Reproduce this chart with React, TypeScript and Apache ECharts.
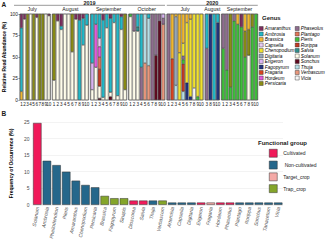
import React, { useEffect, useRef } from "react";
import * as echarts from "echarts";

// ---------- Panel A data ----------
const GENERA = [
  "Amaranthus", "Ambrosia", "Artemisia", "Brassica", "Capsella", "Chenopodium",
  "Digitaria", "Dioscorea", "Erigeron", "Fagopyrum", "Fragaria", "Hordeum", "Persicaria",
  "Phaseolus", "Phellodendron", "Plantago", "Pieris", "Rorippa", "Salvia", "Sinapis",
  "Solanum", "Sonchus", "Tanacetum", "Thuja", "Verbascum", "Vicia",
];

const GENUS_COLORS: Record<string, string> = {
  Amaranthus: "#7D2E5E", Ambrosia: "#22B8C8", Artemisia: "#D2552E", Brassica: "#F0B72F",
  Capsella: "#E8CBF2", Chenopodium: "#F1E22E", Digitaria: "#97A6B6", Dioscorea: "#5F5B78",
  Erigeron: "#D9B3F2", Fagopyrum: "#22337E", Fragaria: "#D8431F", Hordeum: "#E15BDB",
  Persicaria: "#8A8C14", Phaseolus: "#8E6C8E", Phellodendron: "#3B1232", Plantago: "#E07559",
  Pieris: "#3EBE3A", Rorippa: "#C23A25", Salvia: "#2E8E8A", Sinapis: "#92B78F",
  Solanum: "#FFFDEB", Sonchus: "#5F0B20", Tanacetum: "#3AA3B8", Thuja: "#B5DEE6",
  Verbascum: "#E8977C", Vicia: "#F7F7F7",
};

type Bar = Record<string, number>;

const SAMPLES_10 = ["1", "2", "3", "4", "5", "6", "7", "8", "9", "10"];
const SAMPLES_AUG2020 = ["3", "8", "9", "10"];

const jul2019: Bar[] = [
  { Brassica: 10, Ambrosia: 74, Amaranthus: 16 },
  { Solanum: 94, Amaranthus: 6 },
  { Persicaria: 100 },
  { Solanum: 100 },
  { Persicaria: 100 },
  { Solanum: 96, Amaranthus: 4 },
  { Persicaria: 100 },
  { Persicaria: 100 },
  { Solanum: 100 },
  { Solanum: 98, Amaranthus: 2 },
];
const aug2019: Bar[] = [
  { Solanum: 23, Persicaria: 77 },
  { Solanum: 92, Amaranthus: 8 },
  { Solanum: 82, Ambrosia: 4, Amaranthus: 14 },
  { Solanum: 100 },
  { Solanum: 100 },
  { Solanum: 56, Persicaria: 44 },
  { Solanum: 94, Amaranthus: 6 },
  { Ambrosia: 93, Amaranthus: 7 },
  { Solanum: 64, Ambrosia: 31, Amaranthus: 5 },
  { Solanum: 87, Ambrosia: 13 },
];
const sep2019: Bar[] = [
  { Solanum: 12, Erigeron: 31, Ambrosia: 57 },
  { Solanum: 38, Hordeum: 50, Ambrosia: 12 },
  { Solanum: 14, Sonchus: 2, Rorippa: 20, Plantago: 14, Hordeum: 12, Capsella: 10, Ambrosia: 28 },
  { Solanum: 3, Ambrosia: 90, Amaranthus: 7 },
  { Solanum: 84, Ambrosia: 16 },
  { Solanum: 5, Sonchus: 4, Ambrosia: 86, Amaranthus: 5 },
  { Solanum: 90, Ambrosia: 10 },
  { Solanum: 5, Ambrosia: 95 },
  { Solanum: 82, Ambrosia: 15, Amaranthus: 3 },
  { Solanum: 12, Persicaria: 88 },
];
const oct2019: Bar[] = [
  { Solanum: 97, Pieris: 3 },
  { Solanum: 80, Phaseolus: 20 },
  { Solanum: 80, Salvia: 5, Ambrosia: 15 },
  { Phaseolus: 38, Ambrosia: 62 },
  { Verbascum: 43, Thuja: 57 },
  { Verbascum: 40, Thuja: 55, Ambrosia: 5 },
  { Phaseolus: 100 },
  { Sonchus: 52, Phaseolus: 48 },
  { Sonchus: 92, Phaseolus: 8 },
  { Verbascum: 88, Phaseolus: 7, Erigeron: 5 },
];
const jul2020: Bar[] = [
  { Phaseolus: 100 },
  { Fragaria: 48, Brassica: 52 },
  { Thuja: 17, Digitaria: 80, Brassica: 3 },
  { Chenopodium: 55, Brassica: 45 },
  { Thuja: 10, Rorippa: 32, Pieris: 5, Phaseolus: 4, Chenopodium: 15, Brassica: 34 },
  { Fagopyrum: 20, Chenopodium: 70, Brassica: 10 },
  { Fagopyrum: 4, Chenopodium: 90, Brassica: 6 },
  { Vicia: 14, Chenopodium: 86 },
  { Pieris: 4, Chenopodium: 96 },
  { Chenopodium: 100 },
];
const aug2020: Bar[] = [
  { Phaseolus: 60, Ambrosia: 40 },
  { Fagopyrum: 100 },
  { Ambrosia: 100 },
  { Fagopyrum: 90, Ambrosia: 10 },
];
const sep2020: Bar[] = [
  { Pieris: 60, Phaseolus: 40 },
  { Pieris: 35, Phaseolus: 65 },
  { Pieris: 15, Persicaria: 85 },
  { Pieris: 92, Phaseolus: 8 },
  { Pieris: 88, Brassica: 12 },
  { Pieris: 85, Amaranthus: 15 },
  { Pieris: 50, Persicaria: 30, Brassica: 20 },
  { Solanum: 52, Persicaria: 30, Brassica: 18 },
  { Pieris: 85, Persicaria: 15 },
  { Pieris: 100 },
];

const FACETS = [
  { year: "2019", month: "July", samples: SAMPLES_10, bars: jul2019 },
  { year: "2019", month: "August", samples: SAMPLES_10, bars: aug2019 },
  { year: "2019", month: "September", samples: SAMPLES_10, bars: sep2019 },
  { year: "2019", month: "October", samples: SAMPLES_10, bars: oct2019 },
  { year: "2020", month: "July", samples: SAMPLES_10, bars: jul2020 },
  { year: "2020", month: "August", samples: SAMPLES_AUG2020, bars: aug2020 },
  { year: "2020", month: "September", samples: SAMPLES_10, bars: sep2020 },
];
const A_TICKS = [0, 25, 50, 75, 100];

// ---------- Panel B data ----------
const B_GENERA = [
  "Solanum", "Ambrosia", "Phellodendron", "Pieris", "Amaranthus", "Chenopodium", "Persicaria",
  "Brassica", "Fagopyrum", "Sinapis", "Dioscorea", "Salvia", "Thuja", "Verbascum", "Artemisia",
  "Capsella", "Digitaria", "Erigeron", "Fragaria", "Hordeum", "Phaseolus", "Plantago", "Rorippa",
  "Sonchus", "Tanacetum", "Vicia",
];
const B_FREQ = [
  24.7, 13.3, 12.0, 10.0, 7.3, 6.0, 5.3, 2.7, 2.0, 2.0, 1.3, 1.3, 1.3, 1.3, 0.7,
  0.7, 0.7, 0.7, 0.7, 0.7, 0.7, 0.7, 0.7, 0.7, 0.7, 0.7,
];
const B_GROUP = [
  "Cultivated", "Non-cultivated", "Non-cultivated", "Non-cultivated", "Non-cultivated",
  "Non-cultivated", "Non-cultivated", "Trap_crop", "Trap_crop", "Trap_crop", "Cultivated",
  "Cultivated", "Non-cultivated", "Trap_crop", "Non-cultivated", "Non-cultivated",
  "Non-cultivated", "Cultivated", "Target_crop", "Cultivated", "Cultivated", "Non-cultivated",
  "Non-cultivated", "Non-cultivated", "Non-cultivated", "Non-cultivated",
];
const GROUPS = ["Cultivated", "Non-cultivated", "Target_crop", "Trap_crop"];
const GROUP_LABELS = ["Cultivated", " Non-cultivated", "Target_crop", "Trap_crop"];
const GROUP_COLORS = ["#F01A5A", "#25678B", "#F4A9A6", "#84A52A"];
const B_TICKS = [0, 5, 10, 15, 20, 25];

const FONT = "Liberation Sans, Arial, sans-serif";

function buildOption() {
  // layout of facets
  const BAR_W = 3.64, GAP = 1.8, X0 = 14, TOP = 14, H = 86;
  let cursor = X0;
  const boxes = FACETS.map((f) => {
    const w = f.samples.length * BAR_W;
    const b = { left: cursor, width: w };
    cursor += w + GAP;
    return b;
  });

  const grids: any[] = boxes.map((b) => ({
    left: b.left, top: TOP, width: b.width, height: H, show: true,
    borderColor: "#1a1a1a", borderWidth: 0.5, backgroundColor: "transparent",
  }));
  const xAxes: any[] = FACETS.map((f, i) => ({
    type: "category", gridIndex: i, data: f.samples,
    axisLine: { show: false }, axisTick: { show: false },
    axisLabel: { fontSize: 4.6, margin: 2, interval: 0, color: "#1a1a1a", fontFamily: FONT },
  }));
  const yAxes: any[] = FACETS.map((f, i) => ({
    type: "value", gridIndex: i, min: A_TICKS[0], max: A_TICKS[A_TICKS.length - 1], interval: 25,
    splitLine: { show: false },
    axisLine: { show: false },
    axisTick: { show: i === 0, length: 1.5, lineStyle: { color: "#333", width: 0.5 } },
    axisLabel: { show: i === 0, fontSize: 4.8, margin: 2, color: "#1a1a1a", fontFamily: FONT },
    name: i === 0 ? "Relative Read Abundance (%)" : "",
    nameLocation: "middle", nameGap: 9, nameRotate: 90,
    nameTextStyle: { fontSize: 5, fontWeight: "bold", color: "#000", fontFamily: FONT },
  }));

  const series: any[] = [];
  FACETS.forEach((f, i) => {
    const totals = f.bars.map((b) => Object.values(b).reduce((s, v) => s + v, 0));
    [...GENERA].reverse().forEach((g) => {
      if (!f.bars.some((b) => b[g])) return;
      series.push({
        type: "bar", name: g, xAxisIndex: i, yAxisIndex: i, stack: "f" + i,
        barCategoryGap: "10%",
        data: f.bars.map((b, k) => (b[g] ? (b[g] / totals[k]) * 100 : "-")),
        itemStyle: { color: GENUS_COLORS[g], borderColor: "#222", borderWidth: 0.4 },
        emphasis: { disabled: true },
      });
    });
  });

  // Panel B
  const bi = FACETS.length;
  grids.push({ left: 17, top: 122, right: 49, height: 83 });
  xAxes.push({
    type: "category", gridIndex: bi, data: B_GENERA,
    axisLine: { show: false }, axisTick: { show: false },
    axisLabel: {
      rotate: 80, fontSize: 5, fontStyle: "italic", color: "#4d4d4d", margin: 2, interval: 0,
      fontFamily: FONT,
    },
  });
  yAxes.push({
    type: "value", gridIndex: bi, min: B_TICKS[0], max: B_TICKS[B_TICKS.length - 1], interval: 5,
    axisLine: { show: false }, axisTick: { show: false },
    splitLine: { lineStyle: { color: "#e6e6e6", width: 0.5 } },
    axisLabel: { fontSize: 5, color: "#4d4d4d", margin: 3, fontFamily: FONT },
    name: "Frequency of Occurrence (%)", nameLocation: "middle", nameGap: 9, nameRotate: 90,
    nameTextStyle: { fontSize: 5, fontWeight: "bold", color: "#000", fontFamily: FONT },
  });
  GROUPS.forEach((g, gi) => {
    series.push({
      type: "bar", name: g, xAxisIndex: bi, yAxisIndex: bi, stack: "B", barCategoryGap: "12%",
      data: B_FREQ.map((v, k) => (B_GROUP[k] === g ? v : "-")),
      itemStyle: { color: GROUP_COLORS[gi], borderColor: "#333", borderWidth: 0.5 },
      emphasis: { disabled: true },
    });
  });

  // strips & titles
  const graphic: any[] = [];
  const text = (t: string, x: number, y: number, size: number, bold = false, align = "center") => ({
    type: "text", x, y, silent: true,
    style: {
      text: t, fill: "#1a1a1a", align, verticalAlign: "top",
      font: `${bold ? "bold " : ""}${size}px ${FONT}`,
    },
  });
  graphic.push(text("A", 1.5, 0.5, 6.5, true, "left"));
  graphic.push(text("B", 1.5, 110, 6.5, true, "left"));
  ["2019", "2020"].forEach((yr) => {
    const idx = FACETS.map((f, i) => (f.year === yr ? i : -1)).filter((i) => i >= 0);
    const x1 = boxes[idx[0]].left;
    const x2 = boxes[idx[idx.length - 1]].left + boxes[idx[idx.length - 1]].width;
    graphic.push(text(yr, (x1 + x2) / 2, -0.5, 5.5, true));
    graphic.push({
      type: "line", silent: true, shape: { x1, y1: 5.3, x2, y2: 5.3 },
      style: { stroke: "#333", lineWidth: 0.5 },
    });
  });
  FACETS.forEach((f, i) => {
    graphic.push(text(f.month, boxes[i].left + boxes[i].width / 2, 6.8, 5.2));
  });
  graphic.push(text("Genus", 262, 14.5, 6, true, "left"));
  graphic.push(text("Functional group", 258, 140, 6, true, "left"));

  const legendBase = {
    orient: "vertical", icon: "rect", selectedMode: false,
    itemStyle: { borderColor: "#222", borderWidth: 0.4 },
  };

  return {
    animation: false,
    textStyle: { fontFamily: FONT },
    grid: grids, xAxis: xAxes, yAxis: yAxes, series, graphic,
    legend: [
      {
        ...legendBase, left: 259, top: 26, data: GENERA.slice(0, 13),
        itemWidth: 4, itemHeight: 4, itemGap: 0.5, padding: 0,
        textStyle: { fontSize: 4.8, lineHeight: 5, fontStyle: "italic", color: "#000", fontFamily: FONT, padding: [0, 0, 0, -3.5] },
      },
      {
        ...legendBase, left: 295, top: 26, data: GENERA.slice(13),
        itemWidth: 4, itemHeight: 4, itemGap: 0.5, padding: 0,
        textStyle: { fontSize: 4.8, lineHeight: 5, fontStyle: "italic", color: "#000", fontFamily: FONT, padding: [0, 0, 0, -3.5] },
      },
      {
        ...legendBase, left: 269, top: 149, padding: 0,
        data: GROUPS, itemWidth: 8, itemHeight: 8, itemGap: 3.3,
        formatter: (n: string) => GROUP_LABELS[GROUPS.indexOf(n)],
        itemStyle: { borderColor: "#333", borderWidth: 0.5 },
        textStyle: { fontSize: 5, color: "#1a1a1a", fontFamily: FONT, padding: [0, 0, 0, 1] },
      },
    ],
  };
}

export default function App() {
  const ref = useRef<HTMLDivElement>(null);
  useEffect(() => {
    const chart = echarts.init(ref.current!, undefined, { renderer: "svg" });
    chart.setOption(buildOption() as any);
    return () => chart.dispose();
  }, []);
  return (
    <div
      ref={ref}
      style={{ position: "fixed", left: 0, top: 0, width: 332, height: 242, background: "#fff" }}
    />
  );
}
